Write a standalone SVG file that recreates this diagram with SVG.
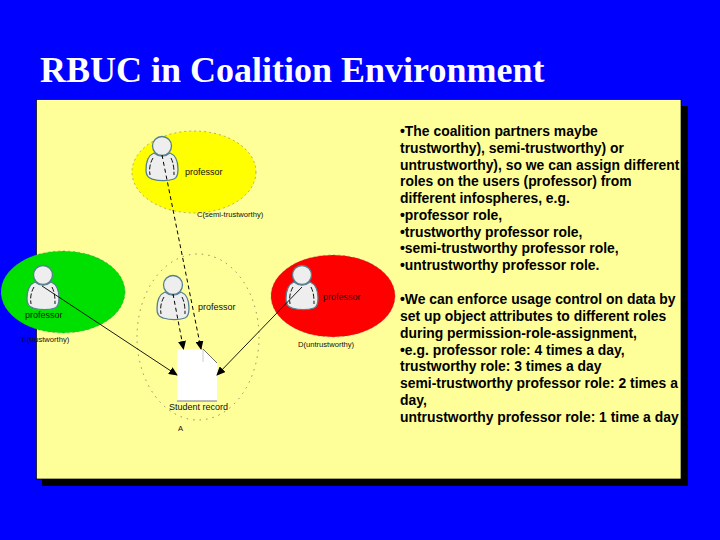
<svg xmlns="http://www.w3.org/2000/svg" width="720" height="540" viewBox="0 0 720 540">
<style>
.title{font:bold 36px "Liberation Serif",serif;fill:#fff}
.body{font:bold 13.9px "Liberation Sans",Arial,sans-serif;fill:#000}
.lab{font:9px "Liberation Sans",Arial,sans-serif;fill:#111}
.lab2{font:7.600px "Liberation Sans",Arial,sans-serif;fill:#111}
.head,.torso{fill:#eeeeee;stroke:#55808f;stroke-width:1.300}
.crease{fill:none;stroke:#111;stroke-width:1;stroke-dasharray:5 2}
.solid{fill:none;stroke:#000;stroke-width:.9;marker-end:url(#arr)}
.dash{fill:none;stroke:#000;stroke-width:1;stroke-dasharray:4 3;marker-end:url(#arr)}
.el{stroke:#666;stroke-width:.5;stroke-dasharray:2 3}
</style>
<defs>
<marker id="arr" markerWidth="9" markerHeight="8" refX="8" refY="4" orient="auto" markerUnits="userSpaceOnUse"><path d="M0 0L9 4L0 8Z" fill="#000"/></marker>
<g id="person">
<path class="torso" d="M-8 7C-13 9-16 15-16 24C-16 30-14 32-10 33C-3 35 6 35 12 33C15 32 16 29 16 23C16 15 13 9 8 7C3 11-3 11-8 7Z"/>
<circle class="head" cx="0" cy="0" r="9.500"/>
<path class="crease" d="M-9 12C-12 17-13 23-12 29M9 12C12 18 12 24 12 29"/>
</g>
</defs>
<rect width="720" height="540" fill="#0000ff"/>
<text class="title" x="40" y="82">RBUC in Coalition Environment</text>
<rect x="42" y="106" width="646" height="380" fill="#000"/>
<rect x="36.500" y="99.500" width="644.500" height="379.500" fill="#ffff99" stroke="#000" stroke-width=".7"/>
<g id="infosphere-a"><ellipse cx="198" cy="337" rx="61" ry="83" fill="none" stroke="#444" stroke-width=".6" stroke-dasharray="1.500 5"/><text class="lab2" x="178" y="431">A</text></g>
<g id="infosphere-b"><ellipse class="el" cx="63" cy="292" rx="62" ry="41" fill="#00e000"/><use href="#person" x="43" y="275"/><text class="lab" x="25" y="318">professor</text><text class="lab2" x="22" y="342">B(trustworthy)</text></g>
<g id="infosphere-c"><ellipse class="el" cx="194" cy="172" rx="62" ry="41" fill="#ffff00"/><use href="#person" x="162" y="146"/><text class="lab" x="185" y="175">professor</text><text class="lab2" x="197" y="217">C(semi-trustworthy)</text></g>
<g id="infosphere-d"><ellipse class="el" cx="333" cy="296" rx="62" ry="41" fill="#ff0000"/><use href="#person" x="302" y="275"/><text class="lab" x="323" y="300">professor</text><text class="lab2" x="298" y="347">D(untrustworthy)</text></g>
<g id="professor-a"><use href="#person" x="173" y="285"/><text class="lab" x="198" y="310">professor</text></g>
<g id="student-record"><path d="M177 349H203L217 363V401H177Z" fill="#fff"/><path d="M203 349V362" stroke="#ccc" fill="none"/><path d="M203 349L217 363" stroke="#333" stroke-width=".7" fill="none"/><path d="M177 401H217" stroke="#777" fill="none"/><text class="lab" x="169" y="410">Student record</text></g>
<g id="connectors">
<path class="dash" d="M162 155L201 349"/>
<path class="dash" d="M173 294L183.500 349"/>
<path class="solid" d="M42 286L177 375"/>
<path class="solid" d="M302 287L217 375"/>
</g>
<g id="notes">
<text class="body" x="400" y="136">•The coalition partners maybe</text>
<text class="body" x="400" y="152.700">trustworthy), semi-trustworthy) or</text>
<text class="body" x="400" y="169.500">untrustworthy), so we can assign different</text>
<text class="body" x="400" y="186.200">roles on the users (professor) from</text>
<text class="body" x="400" y="203">different infospheres, e.g.</text>
<text class="body" x="400" y="219.700">•professor role,</text>
<text class="body" x="400" y="236.500">•trustworthy professor role,</text>
<text class="body" x="400" y="253.200">•semi-trustworthy professor role,</text>
<text class="body" x="400" y="270">•untrustworthy professor role.</text>
<text class="body" x="400" y="304">•We can enforce usage control on data by</text>
<text class="body" x="400" y="320.800">set up object attributes to different roles</text>
<text class="body" x="400" y="337.700">during permission-role-assignment,</text>
<text class="body" x="400" y="354.500">•e.g. professor role: 4 times a day,</text>
<text class="body" x="400" y="371.400">trustworthy role: 3 times a day</text>
<text class="body" x="400" y="388.200">semi-trustworthy professor role: 2 times a</text>
<text class="body" x="400" y="405.100">day,</text>
<text class="body" x="400" y="421.900">untrustworthy professor role: 1 time a day</text>
</g>
</svg>
